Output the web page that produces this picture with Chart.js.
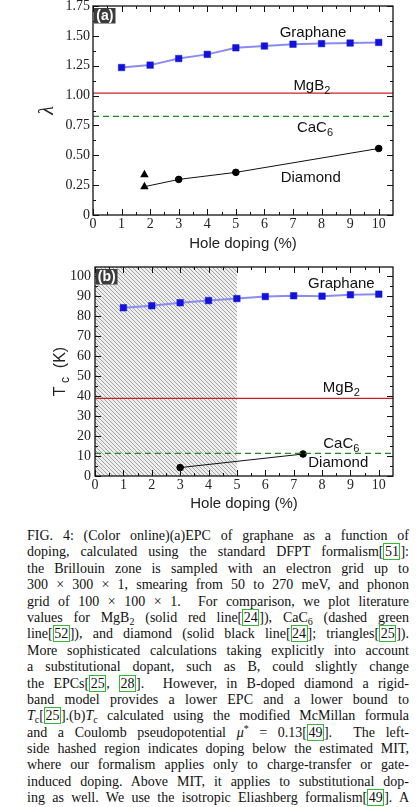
<!DOCTYPE html>
<html>
<head>
<meta charset="utf-8">
<script src="https://cdn.jsdelivr.net/npm/chart.js@4.4.1/dist/chart.umd.min.js"></script>
<style>
  html, body { margin: 0; padding: 0; background: #fff; }
  body { width: 420px; height: 807px; position: relative; overflow: hidden; }
  #boxA { position: absolute; left: 0; top: 0; width: 420px; height: 255px; }
  #boxB { position: absolute; left: 0; top: 255px; width: 420px; height: 260px; }
  #cap { position: absolute; left: 27px; top: 528px; width: 382px;
         font-family: "Liberation Serif", serif; font-size: 14px; color: #111; }
  #cap .l { height: 16.4px; line-height: 16.4px; text-align: justify; text-align-last: justify; white-space: nowrap; }
  #cap sub { font-size: 10px; line-height: 0; vertical-align: -3px; }
  #cap sup { font-size: 10px; line-height: 0; vertical-align: 5px; }
  .c { border: 1px solid #33b833; padding: 0 0.5px; line-height: 1; }
</style>
</head>
<body>
<div id="boxA"><canvas id="chartA" width="420" height="255"></canvas></div>
<div id="boxB"><canvas id="chartB" width="420" height="260"></canvas></div>
<div id="cap">
<div class="l">FIG. 4: (Color online)(a)EPC of graphane as a function of</div>
<div class="l">doping, calculated using the standard DFPT formalism[<span class="c">51</span>]:</div>
<div class="l">the Brillouin zone is sampled with an electron grid up to</div>
<div class="l">300 × 300 × 1, smearing from 50 to 270 meV, and phonon</div>
<div class="l">grid of 100 × 100 × 1. &nbsp;For comparison, we plot literature</div>
<div class="l">values for MgB<sub>2</sub> (solid red line[<span class="c">24</span>]), CaC<sub>6</sub> (dashed green</div>
<div class="l">line[<span class="c">52</span>]), and diamond (solid black line[<span class="c">24</span>]; triangles[<span class="c">25</span>]).</div>
<div class="l">More sophisticated calculations taking explicitly into account</div>
<div class="l">a substitutional dopant, such as B, could slightly change</div>
<div class="l">the EPCs[<span class="c">25</span>, <span class="c">28</span>]. &nbsp;However, in B-doped diamond a rigid-</div>
<div class="l">band model provides a lower EPC and a lower bound to</div>
<div class="l"><i>T</i><sub>c</sub>[<span class="c">25</span>].(b)<i>T</i><sub>c</sub> calculated using the modified McMillan formula</div>
<div class="l">and a Coulomb pseudopotential <i>μ</i><sup>*</sup> = 0.13[<span class="c">49</span>]. &nbsp;The left-</div>
<div class="l">side hashed region indicates doping below the estimated MIT,</div>
<div class="l">where our formalism applies only to charge-transfer or gate-</div>
<div class="l">induced doping. Above MIT, it applies to substitutional dop-</div>
<div class="l">ing as well. We use the isotropic Eliashberg formalism[<span class="c">49</span>]. A</div>
</div>
<script>
// hole doping values (%) of the graphane calculation
const dopingX = [1, 2, 3, 4, 5, 6, 7, 8, 9, 10];
// (a) electron-phonon coupling lambda
const graphaneLambda = [1.235, 1.255, 1.31, 1.345, 1.40, 1.415, 1.43, 1.435, 1.44, 1.445];
const mgb2Lambda = [1.02, 1.02];
const cac6Lambda = [0.825, 0.825];
const diamondX = [1.8, 3, 5, 10];
const diamondLambda = [0.237, 0.298, 0.357, 0.557];
const triangleX = [1.8, 1.8];
const triangleLambda = [0.337, 0.237];
// (b) critical temperature Tc (K)
const graphaneTc = [84.2, 85.2, 86.7, 87.8, 88.8, 89.8, 90.2, 90.0, 90.7, 91.0];
const mgb2Tc = [38.8, 38.8];
const cac6Tc = [11.3, 11.3];
const diamondTcX = [3, 7.33];
const diamondTc = [4.2, 11.0];
const mitRange = [0, 5];
// axes
const xRange = [0, 10.5];
const xTicks = [0, 1, 2, 3, 4, 5, 6, 7, 8, 9, 10];
const xTickLabels = ['0', '1', '2', '3', '4', '5', '6', '7', '8', '9', '10'];
const lambdaTicks = [0, 0.25, 0.5, 0.75, 1.0, 1.25, 1.5, 1.75];
const lambdaTickLabels = ['0', '0.25', '0.50', '0.75', '1.00', '1.25', '1.50', '1.75'];
const tcRange = [0, 104.6];
const tcTicks = [0, 10, 20, 30, 40, 50, 60, 70, 80, 90, 100];
const tcTickLabels = ['0', '10', '20', '30', '40', '50', '60', '70', '80', '90', '100'];

const pts = (xs, ys) => xs.map((x, i) => ({ x: x, y: ys[i] }));

function hatchPattern(ctx) {
  const c = document.createElement('canvas');
  c.width = 4; c.height = 4;
  const g = c.getContext('2d');
  g.fillStyle = '#eeeeee';
  g.fillRect(0, 0, 4, 4);
  g.strokeStyle = '#9a9a9a';
  g.lineWidth = 0.9;
  g.beginPath();
  g.moveTo(-1, -1); g.lineTo(5, 5);
  g.moveTo(-1, 3); g.lineTo(1, 5);
  g.moveTo(3, -1); g.lineTo(5, 1);
  g.stroke();
  return ctx.createPattern(c, 'repeat');
}

// draw text with optional subscript, centred on x, baseline y
function drawParts(ctx, parts, cx, y, size) {
  const big = size + 'px "Liberation Sans", Arial, sans-serif';
  const small = Math.round(size * 0.72) + 'px "Liberation Sans", Arial, sans-serif';
  let w = 0;
  parts.forEach(p => { ctx.font = p.sub ? small : big; w += ctx.measureText(p.t).width; });
  let x = cx - w / 2;
  ctx.textAlign = 'left';
  ctx.textBaseline = 'alphabetic';
  parts.forEach(p => {
    ctx.font = p.sub ? small : big;
    ctx.fillText(p.t, x, p.sub ? y + 4 : y);
    x += ctx.measureText(p.t).width;
  });
}

// frame, inward ticks, hatch region, curve labels and panel tag
const panelDeco = {
  id: 'panelDeco',
  beforeDatasetsDraw(chart, args, o) {
    if (!o.hatch) return;
    const { ctx, chartArea: ca, scales: { x } } = chart;
    const x0 = x.getPixelForValue(o.hatch[0]);
    const x1 = x.getPixelForValue(o.hatch[1]);
    ctx.save();
    ctx.fillStyle = hatchPattern(ctx);
    ctx.fillRect(x0, ca.top, x1 - x0, ca.bottom - ca.top);
    ctx.restore();
  },
  afterDatasetsDraw(chart, args, o) {
    const { ctx, chartArea: ca, scales: { x, y } } = chart;
    ctx.save();
    ctx.strokeStyle = '#111';
    ctx.lineWidth = 1.3;
    ctx.strokeRect(ca.left, ca.top, ca.right - ca.left, ca.bottom - ca.top);
    ctx.lineWidth = 1;
    ctx.beginPath();
    const xMark = (v, len) => {
      const p = Math.round(x.getPixelForValue(v)) + 0.5;
      ctx.moveTo(p, ca.bottom); ctx.lineTo(p, ca.bottom - len);
      ctx.moveTo(p, ca.top); ctx.lineTo(p, ca.top + len);
    };
    const yMark = (v, len) => {
      const p = Math.round(y.getPixelForValue(v)) + 0.5;
      ctx.moveTo(ca.left, p); ctx.lineTo(ca.left + len, p);
      ctx.moveTo(ca.right, p); ctx.lineTo(ca.right - len, p);
    };
    o.xTicks.forEach((v, i) => {
      xMark(v, 6);
      const m = i < o.xTicks.length - 1 ? (v + o.xTicks[i + 1]) / 2 : v + (v - o.xTicks[i - 1]) / 2;
      if (m < x.max) xMark(m, 3);
    });
    o.yTicks.forEach((v, i) => {
      yMark(v, 6);
      if (i < o.yTicks.length - 1) yMark((v + o.yTicks[i + 1]) / 2, 3);
    });
    ctx.stroke();
    ctx.restore();
  },
  afterDraw(chart, args, o) {
    const { ctx, chartArea: ca, scales: { x, y } } = chart;
    ctx.save();
    ctx.fillStyle = '#111';
    o.labels.forEach(l => drawParts(ctx, l.parts, x.getPixelForValue(l.x), y.getPixelForValue(l.y), 15));
    // panel tag
    ctx.fillStyle = '#3c3c3c';
    ctx.fillRect(ca.left + 1, ca.top + 2, 21.5, 15.5);
    ctx.fillStyle = '#fff';
    ctx.font = 'bold 14px "Liberation Sans", Arial, sans-serif';
    ctx.textAlign = 'center';
    ctx.textBaseline = 'middle';
    ctx.fillText(o.tag, ca.left + 11.8, ca.top + 10.3);
    // y title with subscript (panel b)
    if (o.yTitle) {
      ctx.translate(o.yTitle.x, ca.top + (ca.bottom - ca.top) / 2);
      ctx.rotate(-Math.PI / 2);
      ctx.fillStyle = '#222';
      drawParts(ctx, o.yTitle.parts, 0, 5, 16);
    }
    ctx.restore();
  }
};

function xScale(tickPad) {
  return {
    type: 'linear', min: xRange[0], max: xRange[1],
    grid: { display: false, drawTicks: false }, border: { display: false },
    afterBuildTicks: s => { s.ticks = xTicks.map(v => ({ value: v })); },
    ticks: {
      padding: tickPad, color: '#222', maxRotation: 0, autoSkip: false,
      font: { family: '"Liberation Serif", serif', size: 14 },
      callback: v => xTickLabels[xTicks.indexOf(v)]
    },
    title: { display: true, text: 'Hole doping (%)', color: '#222', padding: { top: 0, bottom: 2 },
             font: { family: '"Liberation Sans", Arial, sans-serif', size: 15 } }
  };
}

const lineDs = (data, color, extra) => Object.assign({
  type: 'line', data: data, borderColor: color, backgroundColor: color,
  borderWidth: 1.3, pointRadius: 0, fill: false, tension: 0
}, extra || {});

// ---------- panel (a) ----------
new Chart(document.getElementById('chartA'), {
  type: 'scatter',
  data: {
    datasets: [
      lineDs(pts(xRange, mgb2Lambda), '#cc2020'),
      lineDs(pts(xRange, cac6Lambda), '#1f8a1f', { borderDash: [6, 4] }),
      lineDs(pts(diamondX, diamondLambda), '#111', { borderWidth: 1,
        pointRadius: [0, 3.3, 3.3, 3.3], pointBackgroundColor: '#000', pointBorderColor: '#000' }),
      lineDs(pts(triangleX, triangleLambda), '#000', { showLine: false, pointStyle: 'triangle',
        pointRadius: 3.6, pointBackgroundColor: '#000', pointBorderColor: '#000' }),
      lineDs(pts(dopingX, graphaneLambda), '#8c8cf0', { borderWidth: 2, pointStyle: 'rect',
        pointRadius: 4.6, pointBackgroundColor: '#1212dd', pointBorderColor: '#1212dd', pointBorderWidth: 0.5 })
    ]
  },
  options: {
    responsive: false, animation: false, events: [],
    layout: { padding: { left: 0, right: 27, top: 6, bottom: 0 } },
    plugins: {
      legend: { display: false }, tooltip: { enabled: false },
      panelDeco: {
        tag: '(a)', xTicks: xTicks, yTicks: lambdaTicks,
        labels: [
          { x: 7.7, y: 1.493, parts: [{ t: 'Graphane' }] },
          { x: 7.66, y: 1.047, parts: [{ t: 'MgB' }, { t: '2', sub: true }] },
          { x: 7.77, y: 0.695, parts: [{ t: 'CaC' }, { t: '6', sub: true }] },
          { x: 7.62, y: 0.279, parts: [{ t: 'Diamond' }] }
        ]
      }
    },
    scales: {
      x: Object.assign(xScale(1), {
        afterFit: s => { s.height = 40; s.paddingLeft = 0; s.paddingRight = 0; }
      }),
      y: {
        type: 'linear', min: 0, max: 1.75,
        grid: { display: false, drawTicks: false }, border: { display: false },
        afterBuildTicks: s => { s.ticks = lambdaTicks.map(v => ({ value: v })); },
        afterFit: s => { s.width = 93; s.paddingTop = 0; s.paddingBottom = 0; },
        ticks: {
          padding: 3, color: '#222', autoSkip: false,
          font: { family: '"Liberation Serif", serif', size: 14 },
          callback: v => lambdaTickLabels[lambdaTicks.indexOf(v)]
        },
        title: { display: true, text: 'λ', color: '#222', padding: { top: 36, bottom: 0 },
                 font: { family: '"Liberation Serif", serif', size: 20, style: 'italic' } }
      }
    }
  },
  plugins: [panelDeco]
});

// ---------- panel (b) ----------
new Chart(document.getElementById('chartB'), {
  type: 'scatter',
  data: {
    datasets: [
      lineDs(pts(xRange, mgb2Tc), '#cc2020'),
      lineDs(pts(xRange, cac6Tc), '#1f8a1f', { borderDash: [6, 4] }),
      lineDs(pts(diamondTcX, diamondTc), '#111', { borderWidth: 1,
        pointRadius: 3.3, pointBackgroundColor: '#000', pointBorderColor: '#000' }),
      lineDs(pts(dopingX, graphaneTc), '#8c8cf0', { borderWidth: 2, pointStyle: 'rect',
        pointRadius: 4.6, pointBackgroundColor: '#1212dd', pointBorderColor: '#1212dd', pointBorderWidth: 0.5 })
    ]
  },
  options: {
    responsive: false, animation: false, events: [],
    layout: { padding: { left: 0, right: 27, top: 12, bottom: 0 } },
    plugins: {
      legend: { display: false }, tooltip: { enabled: false },
      panelDeco: {
        tag: '(b)', xTicks: xTicks, yTicks: tcTicks, hatch: mitRange,
        yTitle: { x: 60, parts: [{ t: 'T' }, { t: ' c', sub: true }, { t: '  (K)' }] },
        labels: [
          { x: 8.68, y: 93.85, parts: [{ t: 'Graphane' }] },
          { x: 8.68, y: 42.15, parts: [{ t: 'MgB' }, { t: '2', sub: true }] },
          { x: 8.68, y: 14.15, parts: [{ t: 'CaC' }, { t: '6', sub: true }] },
          { x: 8.57, y: 4.35, parts: [{ t: 'Diamond' }] }
        ]
      }
    },
    scales: {
      x: Object.assign(xScale(1), {
        afterFit: s => { s.height = 39; s.paddingLeft = 0; s.paddingRight = 0; }
      }),
      y: {
        type: 'linear', min: tcRange[0], max: tcRange[1],
        grid: { display: false, drawTicks: false }, border: { display: false },
        afterBuildTicks: s => { s.ticks = tcTicks.map(v => ({ value: v })); },
        afterFit: s => { s.width = 95; s.paddingTop = 0; s.paddingBottom = 0; },
        ticks: {
          padding: 4, color: '#222', autoSkip: false,
          font: { family: '"Liberation Serif", serif', size: 14 },
          callback: v => tcTickLabels[tcTicks.indexOf(v)]
        },
        title: { display: false }
      }
    }
  },
  plugins: [panelDeco]
});
</script>
</body>
</html>
